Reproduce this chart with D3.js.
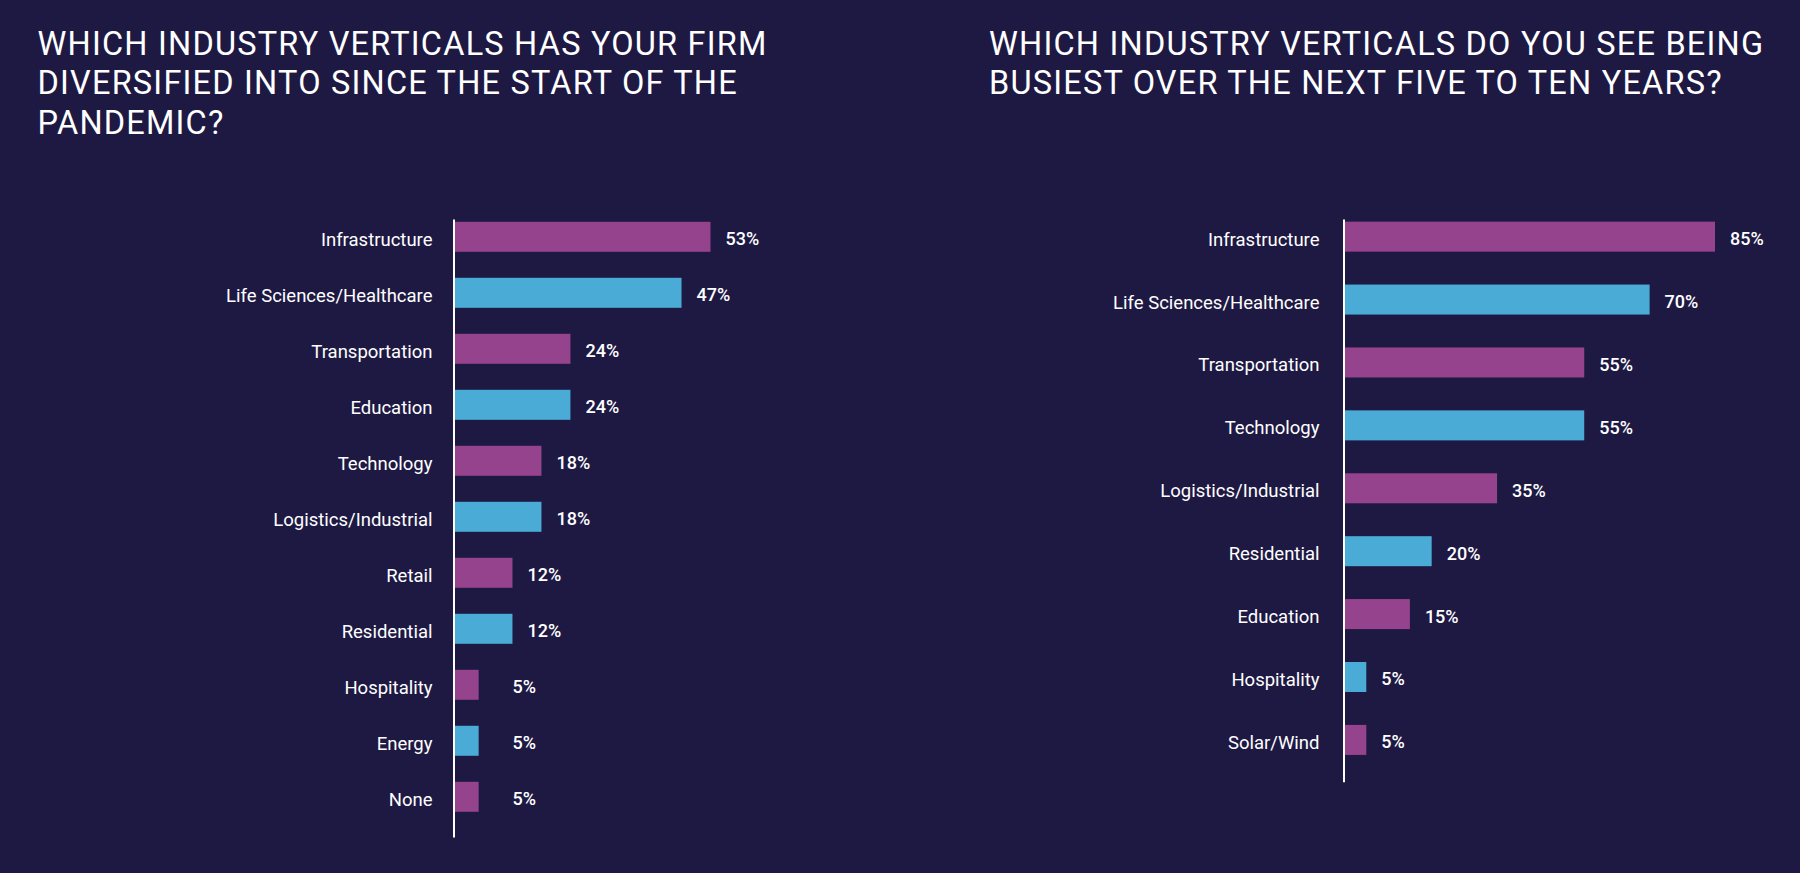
<!DOCTYPE html>
<html>
<head>
<meta charset="utf-8">
<script src="https://cdn.jsdelivr.net/npm/d3@7"></script>
<style>
  html, body { margin: 0; padding: 0; background: #1e1943; }
  svg { display: block; }
  text { font-family: Roboto, "Noto Sans", sans-serif; fill: #ffffff; }
</style>
</head>
<body>
<svg id="chart" width="1800" height="873"></svg>
<script>
// ---- Data ----
const leftTitle = ["WHICH INDUSTRY VERTICALS HAS YOUR FIRM", "DIVERSIFIED INTO SINCE THE START OF THE", "PANDEMIC?"];
const leftCategories = ["Infrastructure", "Life Sciences/Healthcare", "Transportation", "Education", "Technology",
  "Logistics/Industrial", "Retail", "Residential", "Hospitality", "Energy", "None"];
const leftValues = [53, 47, 24, 24, 18, 18, 12, 12, 5, 5, 5];

const rightTitle = ["WHICH INDUSTRY VERTICALS DO YOU SEE BEING", "BUSIEST OVER THE NEXT FIVE TO TEN YEARS?"];
const rightCategories = ["Infrastructure", "Life Sciences/Healthcare", "Transportation", "Technology",
  "Logistics/Industrial", "Residential", "Education", "Hospitality", "Solar/Wind"];
const rightValues = [85, 70, 55, 55, 35, 20, 15, 5, 5];

// ---- Styles ----
const PURPLE = "#96438d";
const BLUE = "#4aabd6";

const svg = d3.select("#chart");
svg.append("rect").attr("width", 1800).attr("height", 873).attr("fill", "#1e1943");

function drawTitle(lines, x) {
  const t = svg.append("text")
    .attr("x", x).attr("y", 55)
    .style("font-size", "32.5px")
    .style("letter-spacing", "1.2px")
    .style("font-weight", 400);
  lines.forEach((l, i) => {
    t.append("tspan").attr("x", x).attr("dy", i === 0 ? 0 : 39.3).text(l);
  });
}

function drawChart(cfg) {
  const { categories, values, axisX, yTop, yBottom, xMax, pI, pO, align, labelPad, minLabelOffset } = cfg;
  const y = d3.scaleBand().domain(categories).range([yTop, yBottom])
    .paddingInner(pI).paddingOuter(pO).align(align);
  const x = d3.scaleLinear().domain([0, xMax]).range([axisX + 1, cfg.xEnd]);

  const g = svg.append("g");
  g.selectAll("rect.bar").data(categories).enter().append("rect")
    .attr("class", "bar")
    .attr("x", x(0))
    .attr("y", d => y(d))
    .attr("width", (d, i) => x(values[i]) - x(0))
    .attr("height", y.bandwidth())
    .attr("fill", (d, i) => i % 2 === 0 ? PURPLE : BLUE);

  const axis = d3.axisLeft(y).tickSize(0).tickSizeOuter(0).tickPadding(labelPad);
  const ag = g.append("g").attr("transform", `translate(${axisX},0)`).call(axis);
  ag.select(".domain").attr("stroke", "#ffffff").attr("stroke-width", 2);
  ag.selectAll(".tick text")
    .attr("dy", null)
    .attr("y", 9)
    .attr("fill", "#ffffff")
    .style("font-family", "Roboto, sans-serif")
    .style("font-size", "18.5px")
    .style("font-weight", 400);

  g.selectAll("text.val").data(categories).enter().append("text")
    .attr("class", "val")
    .attr("x", (d, i) => Math.max(x(values[i]) + 15, axisX + minLabelOffset))
    .attr("y", d => y(d) + y.bandwidth() / 2 + 8.5)
    .style("font-size", "18px")
    .style("font-weight", 500)
    .text((d, i) => values[i] + "%");
}

drawTitle(leftTitle, 37.5);
drawTitle(rightTitle, 989);

drawChart({ categories: leftCategories, values: leftValues, axisX: 453.5, yTop: 219, yBottom: 837,
  xMax: 53, xEnd: 710.5, pI: 0.464, pO: 0.25, align: 0.1, labelPad: 21, minLabelOffset: 59 });
drawChart({ categories: rightCategories, values: rightValues, axisX: 1343.5, yTop: 219, yBottom: 781.7,
  xMax: 85, xEnd: 1715, pI: 0.523, pO: 0.234, align: 0.09, labelPad: 24, minLabelOffset: 0 });
</script>
</body>
</html>
